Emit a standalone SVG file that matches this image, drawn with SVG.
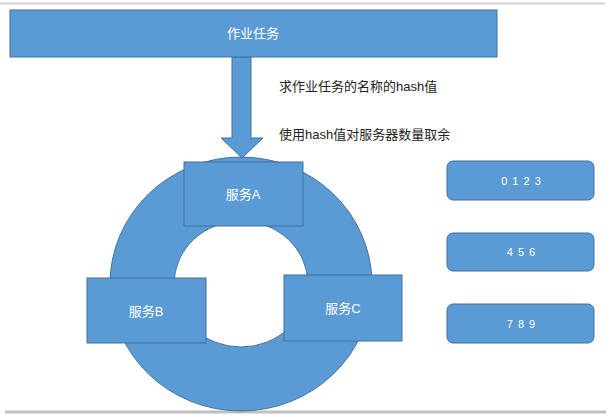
<svg xmlns="http://www.w3.org/2000/svg" width="612" height="417" viewBox="0 0 612 417">
<style>
.box{fill:#5b9bd5;stroke:#41719c;stroke-width:1}
.wt{fill:#fff;font-family:"Liberation Sans","Noto Sans CJK SC",sans-serif;font-size:13px;text-anchor:middle;dominant-baseline:central}
.num{fill:#fff;font-family:"Liberation Sans","Noto Sans CJK SC",sans-serif;font-size:11px;text-anchor:middle;dominant-baseline:central;letter-spacing:1px}
.lbl{fill:#222;font-family:"Liberation Sans","Noto Sans CJK SC",sans-serif;font-size:13px}
</style>
<rect width="612" height="417" fill="#fff"/>
<line x1="0" y1="3.5" x2="605" y2="3.5" stroke="#cfcfcf" stroke-width="2"/>
<line x1="5" y1="412" x2="606" y2="412" stroke="#c0c0c0" stroke-width="3"/>
<g id="ring">
<path class="box" fill-rule="evenodd" d="M110,284 a131,127 0 1,0 262,0 a131,127 0 1,0 -262,0 Z M174,284 a67,63 0 1,0 134,0 a67,63 0 1,0 -134,0 Z"/>
</g>
<g id="connectors">
<path class="box" d="M232,57 L251,57 L251,138 L263,138 L242,158 L221,138 L232,138 Z"/>
</g>
<g id="task">
<rect class="box" x="10" y="10" width="487" height="47"/>
<text class="wt" x="253" y="33">作业任务</text>
</g>
<text class="lbl" x="279" y="91">求作业任务的名称的hash值</text>
<text class="lbl" x="279" y="139">使用hash值对服务器数量取余</text>
<g id="serviceA">
<rect class="box" x="184" y="162" width="119" height="64"/>
<text class="wt" x="243" y="194">服务A</text>
</g>
<g id="serviceB">
<rect class="box" x="87" y="278" width="119" height="65"/>
<text class="wt" x="146" y="311">服务B</text>
</g>
<g id="serviceC">
<rect class="box" x="284" y="275" width="118" height="66"/>
<text class="wt" x="343" y="308">服务C</text>
</g>
<g id="r0123">
<rect class="box" x="447" y="161" width="147" height="39" rx="6"/>
<text class="num" x="521.5" y="181">0 1 2 3</text>
</g>
<g id="r456">
<rect class="box" x="447" y="233" width="147" height="38" rx="6"/>
<text class="num" x="521.5" y="252">4 5 6</text>
</g>
<g id="r789">
<rect class="box" x="447" y="304" width="147" height="39" rx="6"/>
<text class="num" x="521.5" y="324">7 8 9</text>
</g>
</svg>
